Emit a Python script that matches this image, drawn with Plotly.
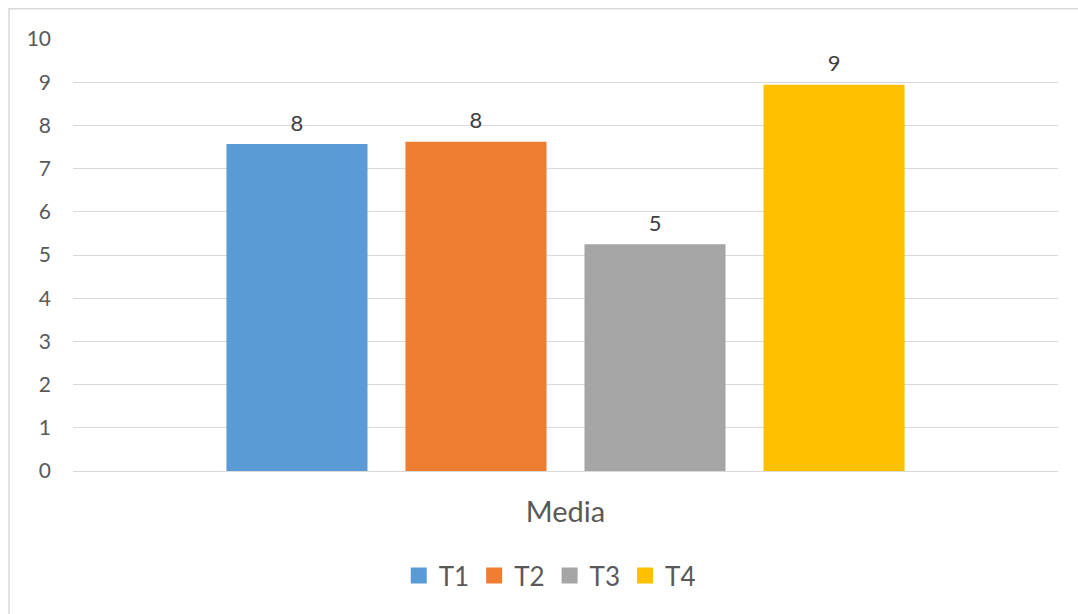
import plotly.graph_objects as go

categories = ["Media"]
series_names = ["T1", "T2", "T3", "T4"]
series_values = [7.57, 7.62, 5.25, 8.94]
colors = ["#5B9BD5", "#ED7D31", "#A5A5A5", "#FFC000"]
y_ticks = list(range(0, 11))

FONT = "Lato, sans-serif"

fig = go.Figure()
for name, val, col in zip(series_names, series_values, colors):
    fig.add_trace(go.Bar(
        x=categories, y=[val], name=name, marker=dict(color=col, line=dict(width=0)),
        offsetgroup=name, alignmentgroup="a", showlegend=False,
    ))
for name, val, col in zip(series_names, series_values, colors):
    fig.add_trace(go.Scatter(
        x=categories, y=[val], mode="markers+text", name=name,
        offsetgroup=name, alignmentgroup="a",
        text=[f"{val:.0f}"], textposition="top center",
        textfont=dict(family=FONT, size=22, color="#404040"),
        marker=dict(size=11, color="rgba(0,0,0,0)"),
        cliponaxis=False, showlegend=False, hoverinfo="skip",
    ))
for name, col in zip(series_names, colors):
    fig.add_trace(go.Scatter(
        x=[None], y=[None], mode="markers", name=name,
        marker=dict(symbol="square", size=16, color=col),
        showlegend=True,
    ))

fig.update_layout(
    width=1078, height=614,
    margin=dict(l=73, r=20, t=39, b=143),
    paper_bgcolor="white", plot_bgcolor="white",
    barmode="group", bargap=0.273, bargroupgap=0.212,
    scattermode="group", scattergap=0.273,
    font=dict(family=FONT, color="#595959"),
    legend=dict(orientation="h", x=0.484, xanchor="center", y=-0.242, yanchor="middle",
                font=dict(family=FONT, size=26, color="#595959"),
                itemsizing="trace", itemwidth=30, tracegroupgap=0),
    shapes=[dict(type="rect", xref="paper", yref="paper",
                 x0=-0.065, x1=1.03, y0=-0.35, y1=1.0703,
                 line=dict(color="#D9D9D9", width=1.5), fillcolor="rgba(0,0,0,0)", layer="below")],
)
fig.update_yaxes(range=[0, 10], tickvals=y_ticks, showgrid=True, gridcolor="#D9D9D9", gridwidth=1,
                 zeroline=False, showline=False, ticks="", ticklabelstandoff=21,
                 tickfont=dict(family=FONT, size=21, color="#595959"))
fig.update_xaxes(showline=True, linecolor="#D9D9D9", linewidth=1, ticks="", ticklabelstandoff=15,
                 tickfont=dict(family=FONT, size=29, color="#595959"))

fig.write_html("out.html")
